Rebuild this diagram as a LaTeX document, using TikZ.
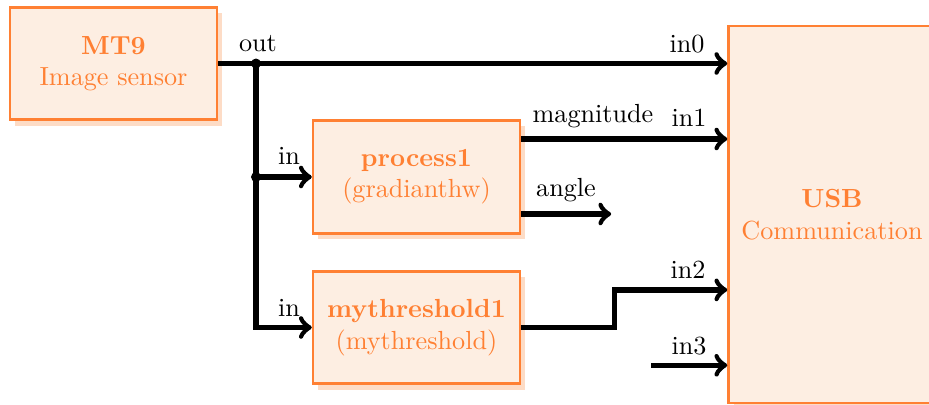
\documentclass[tikz,border=0pt]{standalone}
\usetikzlibrary{shadows,calc}
\definecolor{boxline}{HTML}{FF8033}
\definecolor{boxfill}{HTML}{FDEEE2}
\definecolor{boxshadow}{HTML}{FDDCC6}
\begin{document}
\begin{tikzpicture}[x=0.382pt,y=-0.382pt,
  block/.style={draw=boxline, fill=boxfill, line width=1pt, text=boxline, align=center,
    minimum width=79pt, minimum height=43pt, inner sep=0pt,
    general shadow={fill=boxshadow, shadow xshift=2pt, shadow yshift=-2.2pt}},
  wire/.style={line width=2pt, line join=miter},
  lbl/.style={inner sep=0pt, anchor=base}]
\useasboundingbox (0,0) rectangle (929,405);

\node[block] (mt9) at (113.5,63.5) {\textbf{MT9}\\Image sensor};
\node[block] (proc) at (416.5,177) {\textbf{process1}\\(gradianthw)};
\node[block] (thr) at (416.5,327.5) {\textbf{mythreshold1}\\(mythreshold)};
\node[block, minimum height=144pt] (usb) at (832,214.5) {\textbf{USB}\\Communication};

\coordinate (u0) at ($(usb.west)+(0,-150.8)$);
\coordinate (u1) at ($(usb.west)+(0,-75.4)$);
\coordinate (u2) at ($(usb.west)+(0,75.4)$);
\coordinate (u3) at ($(usb.west)+(0,150.8)$);
\coordinate (j1) at (256,63.5);
\coordinate (j2) at (256,177);
\coordinate (pm) at ($(proc.east)+(0,-38)$);
\coordinate (pa) at ($(proc.east)+(0,37)$);
\coordinate (pae) at ($(pa)+(90,0)$);
\coordinate (s3) at ($(u3)+(-76,0)$);

\draw[wire,->] (mt9.east) -- (mt9.east -| u0);
\draw[wire,->] (j1) |- (thr.west);
\draw[wire,->] (j2) -- (proc.west);
\fill (j1) circle[radius=1.9pt];
\fill (j2) circle[radius=1.9pt];
\draw[wire,->] (pm) -- (pm -| u1);
\draw[wire,->] (pa) -- (pae);
\draw[wire,->] (thr.east) -- ++(93,0) |- (u2);
\draw[wire,->] (s3) -- (u3);

\node[lbl] (lout) at (258,52) {out};
\node[lbl] (lin1) at (289,165) {in};
\node[lbl] (lin2) at (289,317) {in};
\node[lbl] (lmag) at (593,123) {magnitude};
\node[lbl] (lang) at (566,197) {angle};
\node[lbl] (li0) at (687,53) {in0};
\node[lbl] (li1) at (689,127) {in1};
\node[lbl] (li2) at (688,279) {in2};
\node[lbl] (li3) at (689,355) {in3};
\end{tikzpicture}
\end{document}
